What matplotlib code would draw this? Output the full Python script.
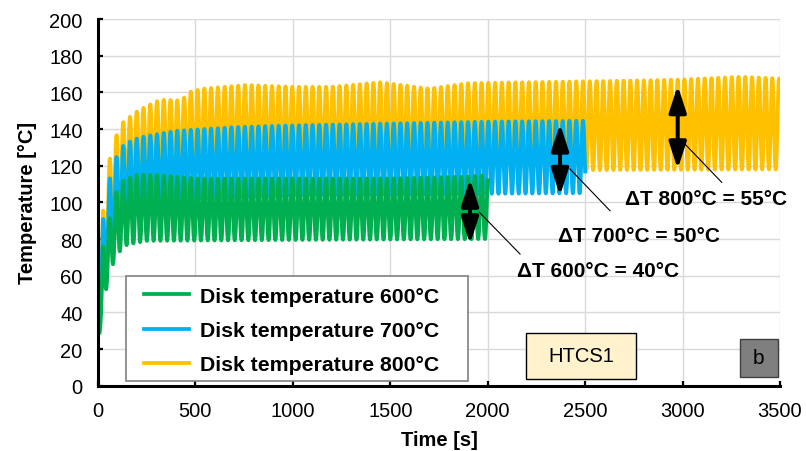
import numpy as np
import matplotlib
matplotlib.use("Agg")
import matplotlib.pyplot as plt
from matplotlib.patches import FancyArrowPatch, ArrowStyle, Rectangle
from matplotlib.lines import Line2D

plt.rcParams['font.family'] = ['Liberation Sans', 'DejaVu Sans']

# ---- thermal cycling record (HTCS1) ----
cycle_period = 34.7      # s, one heating/cooling cycle
first_trough = 8.0       # s, start of the record

# Disk temperature, 600 °C run
g_end = 2000
g_peak_t = [8, 26, 62, 96, 131, 200, 300, 500, 1000, 1500, 1900, 2000]
g_peak_T = [29, 76, 92, 106, 112, 115, 115, 113, 113, 113, 114, 115]
g_trough_t = [8, 44, 79, 113, 150, 250, 1000, 2000]
g_trough_T = [29, 54, 67, 73.5, 77, 79, 79.5, 80]

# Disk temperature, 700 °C run
b_end = 2500
b_peak_t = [8, 26, 62, 96, 131, 169, 205, 242, 400, 700, 1000, 1500, 2000, 2500]
b_peak_T = [40, 91, 114, 125, 131, 133.5, 135, 136, 139, 141, 142, 143, 144, 144.5]
b_trough_t = [8, 44, 79, 113, 150, 250, 500, 1000, 2500]
b_trough_T = [40, 62, 76, 85, 92, 98, 102, 104, 105]

# Disk temperature, 800 °C run
y_end = 3500
y_peak_t = [8, 26, 62, 96, 131, 169, 205, 242, 280, 320, 430, 463, 540, 760,
            1000, 1200, 1450, 1700, 1900, 2200, 2500, 2800, 3000, 3300, 3500]
y_peak_T = [38, 95.5, 125, 137, 144, 147, 150, 152, 154, 156, 155.5, 160, 162, 164,
            163, 163, 165.5, 162, 165, 165.5, 166, 166.5, 167, 168.5, 167.5]
y_trough_t = [8, 44, 79, 113, 150, 250, 500, 1000, 3500]
y_trough_T = [38, 70, 85, 95, 103, 110, 115, 117, 118]

series_labels = ['Disk temperature 600°C', 'Disk temperature 700°C',
                 'Disk temperature 800°C']
series_colors = ['#00B050', '#00B0F0', '#FFC000']

# Temperature swing markers: time, lower tip, upper tip
delta_labels = ['ΔT 600°C = 40°C', 'ΔT 700°C = 50°C', 'ΔT 800°C = 55°C']
arrow_t = [1909, 2371, 2975]
arrow_lo = [77.3, 103.7, 118.2]
arrow_hi = [112.7, 142.8, 163.7]
leader_start = [(1957, 94.6), (2422, 118.2), (3004, 132.7)]
leader_end = [(2166, 71.8), (2628, 95.4), (3201, 110.9)]
label_pos = [(2150, 62.6), (2362, 81.8), (2704, 102.2)]


def cycling_trace(t_end, pk_t, pk_T, tr_t, tr_T):
    t = np.arange(first_trough, t_end + 0.01, 0.5)
    hi = np.interp(t, pk_t, pk_T)
    lo = np.interp(t, tr_t, tr_T)
    phase = (1 - np.cos(2 * np.pi * (t - first_trough) / cycle_period)) / 2
    return t, lo + (hi - lo) * phase


W, H = 806, 452
fig = plt.figure(figsize=(W / 100, H / 100), dpi=100)
ax_l, ax_r, ax_t, ax_b = 98, 780, 20, 386.7
ax = fig.add_axes([ax_l / W, 1 - ax_b / H, (ax_r - ax_l) / W, (ax_b - ax_t) / H])

traces = [
    cycling_trace(y_end, y_peak_t, y_peak_T, y_trough_t, y_trough_T),
    cycling_trace(b_end, b_peak_t, b_peak_T, b_trough_t, b_trough_T),
    cycling_trace(g_end, g_peak_t, g_peak_T, g_trough_t, g_trough_T),
]
for (t, T), c in zip(traces, series_colors[::-1]):
    ax.plot(t, T, color=c, lw=2.8, solid_joinstyle='round', zorder=2)

ax.set_xlim(0, 3500)
ax.set_ylim(0, 200)
ax.set_xticks(np.arange(0, 3501, 500))
ax.set_yticks(np.arange(0, 201, 20))
ax.grid(True, color='#D9D9D9', lw=1.0)
ax.set_axisbelow(True)
for s in ['top', 'right']:
    ax.spines[s].set_visible(False)
for s in ['left', 'bottom']:
    ax.spines[s].set_linewidth(2.2)
    ax.spines[s].set_color('black')
ax.tick_params(direction='in', length=3.5, width=1.6, labelsize=14.5, pad=11)
ax.set_xlabel('Time [s]', fontsize=14.5, fontweight='bold', labelpad=7)
ax.set_ylabel('Temperature [°C]', fontsize=14.5, fontweight='bold', labelpad=9)

# swing arrows with leader lines and labels
for i in range(3):
    arr = FancyArrowPatch((arrow_t[i], arrow_lo[i]), (arrow_t[i], arrow_hi[i]),
                          arrowstyle=ArrowStyle('<|-|>', head_length=16, head_width=5.2),
                          mutation_scale=1, lw=2.9, color='black',
                          shrinkA=0, shrinkB=0, zorder=4)
    ax.add_patch(arr)
    ax.plot([leader_start[i][0], leader_end[i][0]],
            [leader_start[i][1], leader_end[i][1]],
            color='black', lw=0.8, zorder=4, clip_on=False)
    ax.text(label_pos[i][0], label_pos[i][1], delta_labels[i], fontsize=15,
            fontweight='bold', ha='left', va='center', zorder=5, clip_on=False)

# legend in a framed box
def px_to_axes(x, y):
    return (x - ax_l) / (ax_r - ax_l), (ax_b - y) / (ax_b - ax_t)

x0, y0 = px_to_axes(126, 381.7)
x1, y1 = px_to_axes(467.7, 277.3)
ax.add_patch(Rectangle((x0, y0), x1 - x0, y1 - y0, transform=ax.transAxes,
                       facecolor='white', edgecolor='#808080', lw=1.2, zorder=6))
handles = [Line2D([], [], color=c, lw=2.7) for c in series_colors]
lx, ly = px_to_axes(144, 331.5)
leg = ax.legend(handles, series_labels, loc='center left', bbox_to_anchor=(lx, ly),
                frameon=False, borderpad=0, borderaxespad=0, handlelength=2.1,
                handletextpad=0.55, labelspacing=0.72, prop={'size': 15.3, 'weight': 'bold'})
leg.set_zorder(7)

# specimen tag
x0, y0 = px_to_axes(526, 380)
x1, y1 = px_to_axes(635.7, 334)
ax.add_patch(Rectangle((x0, y0), x1 - x0, y1 - y0, transform=ax.transAxes,
                       facecolor='#FFF2CC', edgecolor='black', lw=1.0, zorder=6))
ax.text((x0 + x1) / 2, (y0 + y1) / 2, 'HTCS1', transform=ax.transAxes,
        fontsize=14.5, ha='center', va='center', zorder=7)

# panel letter
x0, y0 = px_to_axes(740, 377.7)
x1, y1 = px_to_axes(777.7, 340)
ax.add_patch(Rectangle((x0, y0), x1 - x0, y1 - y0, transform=ax.transAxes,
                       facecolor='#7F7F7F', edgecolor='#3F3F3F', lw=1.0, zorder=6))
ax.text((x0 + x1) / 2, (y0 + y1) / 2, 'b', transform=ax.transAxes,
        fontsize=15, ha='center', va='center', zorder=7)

fig.savefig('out.png', dpi=100)
